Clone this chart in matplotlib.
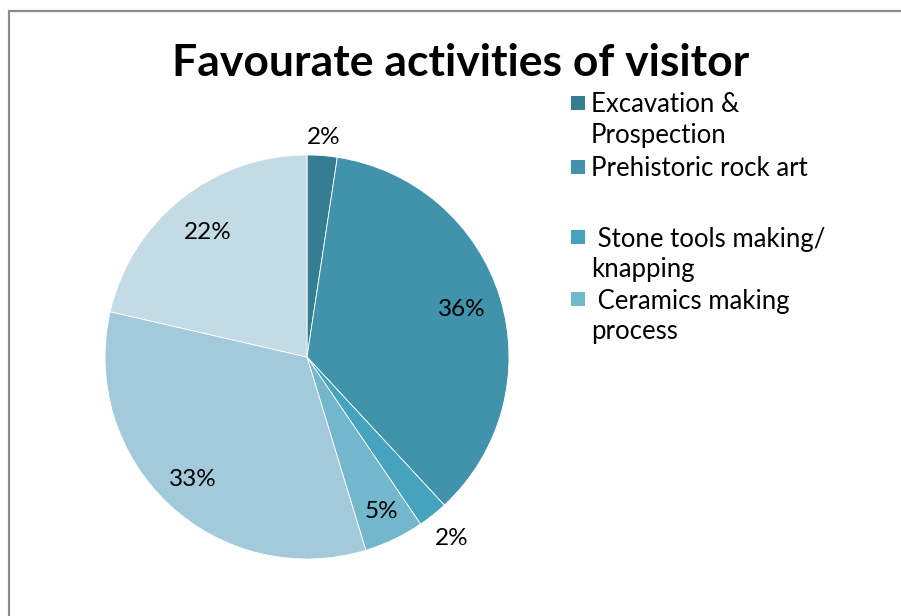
import numpy as np
import matplotlib.pyplot as plt
from matplotlib.patches import Rectangle

# data
activities = ["Excavation & Prospection", "Prehistoric rock art", "Stone tools making/ knapping",
              "Ceramics making process", "Other 1", "Other 2"]
shares = [2.4, 35.7, 2.4, 4.8, 33.3, 21.4]
pct_labels = ["2%", "36%", "2%", "5%", "33%", "22%"]
legend_labels = ["Excavation &\nProspection", "Prehistoric rock art",
                 " Stone tools making/\nknapping", " Ceramics making\nprocess"]

colors = ["#357E91", "#4192AB", "#45A3BD", "#73B7CD", "#A3CADA", "#C2DBE4"]
label_radius = [1.09, 0.80, 1.15, 0.85, 0.83, 0.79]

plt.rcParams['font.family'] = ['Lato', 'DejaVu Sans']

W, H = 901, 616
fig = plt.figure(figsize=(W / 100, H / 100), dpi=100)

# grey frame (cut off at right and bottom)
fig.add_artist(Rectangle((9 / W, -0.1), 1.2, 1.1 - 11 / H, transform=fig.transFigure,
                         fill=False, edgecolor="#8c8c8c", linewidth=1.6))

fig.text(461 / W, 1 - 63 / H, "Favourate activities of visitor", ha="center", va="center",
         fontsize=32, fontweight="bold")

cx, cy, r = 307, 357, 202
ax = fig.add_axes([(cx - r) / W, (H - cy - r) / H, 2 * r / W, 2 * r / H])
wedges, _ = ax.pie(shares, colors=colors, startangle=90, counterclock=False,
                   wedgeprops=dict(edgecolor="white", linewidth=0.6))
ax.set_xlim(-1, 1)
ax.set_ylim(-1, 1)

for w, lab, rad in zip(wedges, pct_labels, label_radius):
    ang = np.deg2rad((w.theta1 + w.theta2) / 2)
    ax.text(rad * np.cos(ang), rad * np.sin(ang), lab, ha="center", va="center",
            fontsize=17.5, color="black")

# legend drawn by hand (the original has an empty row after the second entry)
first_line_y = [103, 167, 237, 299]
line_step = 31
for i, (lab, y) in enumerate(zip(legend_labels, first_line_y)):
    fig.add_artist(Rectangle((571 / W, 1 - (y + 7) / H), 14 / W, 14 / H,
                             transform=fig.transFigure, facecolor=colors[i],
                             edgecolor="none"))
    for k, line in enumerate(lab.split("\n")):
        fig.text(591 / W, 1 - (y + 2 + k * line_step) / H, line, ha="left", va="center",
                 fontsize=18.5)

fig.savefig("out.png", dpi=100)
